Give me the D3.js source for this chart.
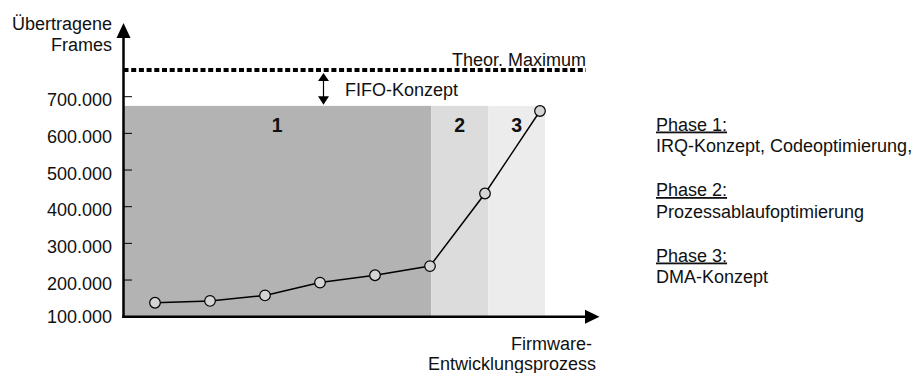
<!DOCTYPE html>
<html>
<head>
<meta charset="utf-8">
<script src="https://cdn.jsdelivr.net/npm/d3@7"></script>
<style>
  html, body { margin: 0; padding: 0; background: #fff; }
  svg { display: block; }
  text { font-family: "Liberation Sans", Arial, Helvetica, sans-serif; fill: #111; }
</style>
</head>
<body>
<svg id="chart" width="915" height="373"></svg>
<script>
// ---- data ----
const steps = [0, 1, 2, 3, 4, 5, 6, 7];
const frames = [138000, 143000, 158000, 193000, 213000, 238000, 436000, 661000];
const yTicks = [100000, 200000, 300000, 400000, 500000, 600000, 700000];
const phaseNames = ["1", "2", "3"];
const phaseEnds = [5.02, 6.06, 7.09];
const phaseColors = ["#b3b3b3", "#dcdcdc", "#ececec"];
const phaseTop = 675000;
const theorMax = 773000;
const legendTitles = ["Phase 1:", "Phase 2:", "Phase 3:"];
const legendTexts = ["IRQ-Konzept, Codeoptimierung,", "Prozessablaufoptimierung", "DMA-Konzept"];

// ---- scales ----
const svg = d3.select("#chart");
const axisX = 123.5, axisY = 316.7;
const x = d3.scaleLinear().domain([0, 7]).range([155, 540]);
const y = d3.scaleLinear().domain([100000, 700000]).range([axisY, 96.7]);
const xStart = x.invert(axisX);

// phase shading
const phaseStarts = [xStart, phaseEnds[0], phaseEnds[1]];
svg.selectAll("rect.phase").data(phaseNames).enter().append("rect")
  .attr("class", "phase")
  .attr("x", (d, i) => x(phaseStarts[i]))
  .attr("width", (d, i) => x(phaseEnds[i]) - x(phaseStarts[i]))
  .attr("y", y(phaseTop))
  .attr("height", axisY - y(phaseTop))
  .attr("fill", (d, i) => phaseColors[i]);

svg.selectAll("text.phaseLbl").data(phaseNames).enter().append("text")
  .attr("class", "phaseLbl")
  .attr("x", (d, i) => (x(phaseStarts[i]) + x(phaseEnds[i])) / 2)
  .attr("y", 132)
  .attr("text-anchor", "middle")
  .attr("font-size", 19.5)
  .attr("font-weight", "bold")
  .text(d => d);

// theoretical maximum dotted line
svg.append("line")
  .attr("x1", axisX).attr("x2", 586)
  .attr("y1", y(theorMax)).attr("y2", y(theorMax))
  .attr("stroke", "#000").attr("stroke-width", 4)
  .attr("stroke-dasharray", "5,2.7");
svg.append("text")
  .attr("x", 586).attr("y", y(theorMax) - 3.5)
  .attr("text-anchor", "end").attr("font-size", 18)
  .text("Theor. Maximum");

// FIFO arrow
const ax = 323.5;
const yA = y(theorMax) + 3, yB = y(phaseTop);
svg.append("line").attr("x1", ax).attr("x2", ax).attr("y1", yA + 5).attr("y2", yB - 5)
  .attr("stroke", "#000").attr("stroke-width", 1.2);
svg.append("path")
  .attr("d", `M${ax},${yA} L${ax - 5.5},${yA + 8} L${ax + 5.5},${yA + 8} Z`)
  .attr("fill", "#000");
svg.append("path")
  .attr("d", `M${ax},${yB - 1} L${ax - 5.5},${yB - 9.5} L${ax + 5.5},${yB - 9.5} Z`)
  .attr("fill", "#000");
svg.append("text")
  .attr("x", 345).attr("y", 96)
  .attr("font-size", 18)
  .text("FIFO-Konzept");

// y axis ticks and labels
svg.selectAll("line.tick").data(yTicks.slice(1)).enter().append("line")
  .attr("class", "tick")
  .attr("x1", axisX).attr("x2", 132)
  .attr("y1", d => y(d)).attr("y2", d => y(d))
  .attr("stroke", "#000").attr("stroke-width", 1);
svg.selectAll("text.tickLbl").data(yTicks).enter().append("text")
  .attr("class", "tickLbl")
  .attr("x", 112)
  .attr("y", d => y(d) + (d === 100000 ? 6 : 9.5))
  .attr("text-anchor", "end")
  .attr("font-size", 18)
  .text(d => d3.format(",")(d).replace(/,/g, "."));

// axes
svg.append("line").attr("x1", axisX).attr("x2", axisX).attr("y1", 36).attr("y2", axisY + 1.2)
  .attr("stroke", "#000").attr("stroke-width", 2.5);
svg.append("path").attr("d", `M${axisX},23 L${axisX - 7},38 L${axisX + 7},38 Z`).attr("fill", "#000");
svg.append("line").attr("x1", axisX - 1.2).attr("x2", 587).attr("y1", axisY).attr("y2", axisY)
  .attr("stroke", "#000").attr("stroke-width", 2.5);
svg.append("path").attr("d", `M599.5,${axisY} L585,${axisY - 7} L585,${axisY + 7} Z`).attr("fill", "#000");

// axis titles
svg.append("text").attr("x", 112).attr("y", 29.5).attr("text-anchor", "end").attr("font-size", 18).text("Übertragene");
svg.append("text").attr("x", 112).attr("y", 51).attr("text-anchor", "end").attr("font-size", 18).text("Frames");
svg.append("text").attr("x", 592).attr("y", 349.5).attr("text-anchor", "end").attr("font-size", 18).text("Firmware-");
svg.append("text").attr("x", 596).attr("y", 370).attr("text-anchor", "end").attr("font-size", 18).text("Entwicklungsprozess");

// data line and points
const line = d3.line().x((d, i) => x(steps[i])).y(d => y(d));
svg.append("path").datum(frames).attr("d", line)
  .attr("fill", "none").attr("stroke", "#000").attr("stroke-width", 1.5);
svg.selectAll("circle.pt").data(frames).enter().append("circle")
  .attr("class", "pt")
  .attr("cx", (d, i) => x(steps[i])).attr("cy", d => y(d))
  .attr("r", 5.3)
  .attr("fill", "#d4d4d4").attr("stroke", "#000").attr("stroke-width", 1.2);

// legend
const lg = svg.append("g");
legendTitles.forEach((t, i) => {
  const by = 130.5 + i * 65.5;
  lg.append("text").attr("x", 656).attr("y", by).attr("font-size", 18)
    .attr("text-decoration", "underline").text(t);
  lg.append("text").attr("x", 656).attr("y", by + 21.5).attr("font-size", 18)
    .text(legendTexts[i]);
});
</script>
</body>
</html>
